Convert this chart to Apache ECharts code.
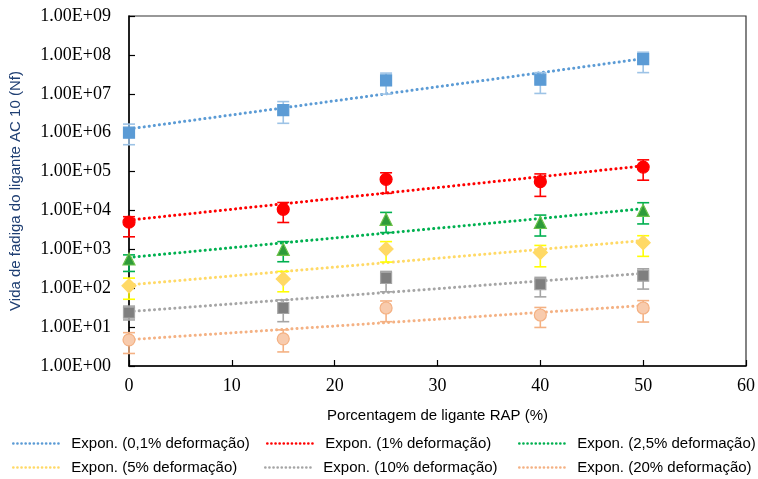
<!DOCTYPE html>
<html>
<head>
<meta charset="utf-8">
<script src="https://cdn.jsdelivr.net/npm/echarts@6/dist/echarts.min.js"></script>
<style>
  html, body { margin: 0; padding: 0; background: #fff; }
  #chart { width: 758px; height: 479px; }
</style>
</head>
<body>
<div id="chart"></div>
<script>
// RAP binder content (%) at which fatigue life was measured
const rapPercent = [0, 15, 25, 40, 50];

// Fatigue life Nf of the AC 10 binder, per strain level
const nf01  = [1.0e6, 3.8e6, 2.2e7, 2.3e7, 7.8e7];
const nf1   = [5.0e3, 1.07e4, 6.3e4, 5.5e4, 1.3e5];
const nf25  = [565, 1000, 5900, 4900, 10000];
const nf5   = [115, 173, 1020, 830, 1480];
const nf10  = [23.6, 31, 183, 127, 210];
const nf20  = [4.7, 5.0, 31, 20.5, 31];

// Error bar limits (upper / lower) for each point
const hi01 = [1.66e6, 6.3e6, 3.4e7, 3.5e7, 1.17e8];
const lo01 = [4.9e5, 1.74e6, 9.8e6, 1.02e7, 3.5e7];
const hi1  = [6.9e3, 1.6e4, 9.3e4, 8.7e4, 2.0e5];
const lo1  = [2.1e3, 4.9e3, 2.75e4, 2.3e4, 6.0e4];
const hi25 = [720, 1580, 8900, 7600, 15800];
const lo25 = [270, 480, 2700, 2200, 4500];
const hi5  = [182, 270, 1580, 1260, 2240];
const lo5  = [52, 81, 470, 355, 660];
const hi10 = [34.7, 50, 270, 190, 316];
const lo10 = [15.3, 13.8, 81, 60, 95];
const hi20 = [7.2, 8.5, 47, 32, 48];
const lo20 = [2.1, 2.3, 13.8, 9.8, 13.5];

// Legend names of the exponential trend lines
const trendNames = [
  'Expon. (0,1% deformação)',
  'Expon. (1% deformação)',
  'Expon. (2,5% deformação)',
  'Expon. (5% deformação)',
  'Expon. (10% deformação)',
  'Expon. (20% deformação)'
];

// Y axis tick labels, indexed by decade exponent
const yTickLabels = ['1.00E+00', '1.00E+01', '1.00E+02', '1.00E+03', '1.00E+04',
                     '1.00E+05', '1.00E+06', '1.00E+07', '1.00E+08', '1.00E+09'];

const groups = [
  { y: nf01, hi: hi01, lo: lo01, symbol: 'rect', size: 11, fill: '#5B9BD5', border: '#5B9BD5', bar: '#9DC3E6', line: '#5B9BD5' },
  { y: nf1,  hi: hi1,  lo: lo1,  symbol: 'circle', size: 12, fill: '#FF0000', border: '#FF0000', bar: '#FF0000', line: '#FF0000' },
  { y: nf25, hi: hi25, lo: lo25, symbol: 'triangle', size: 12, fill: '#2E9B3A', border: '#6CC24A', bar: '#00B050', line: '#00B050' },
  { y: nf5,  hi: hi5,  lo: lo5,  symbol: 'diamond', size: 14, fill: '#FFD966', border: '#FFD966', bar: '#FFFF00', line: '#FFD966' },
  { y: nf10, hi: hi10, lo: lo10, symbol: 'rect', size: 11, fill: '#7F7F7F', border: '#A5A5A5', bar: '#A5A5A5', line: '#A5A5A5' },
  { y: nf20, hi: hi20, lo: lo20, symbol: 'circle', size: 12, fill: '#F8CBAD', border: '#F4B183', bar: '#F4B183', line: '#F4B183' }
];

// Least-squares exponential fit y = a*exp(b*x), done on log10(y)
function expFit(xs, ys) {
  const n = xs.length;
  const ly = ys.map(v => Math.log10(v));
  const mx = xs.reduce((s, v) => s + v, 0) / n;
  const my = ly.reduce((s, v) => s + v, 0) / n;
  let sxy = 0, sxx = 0;
  for (let i = 0; i < n; i++) {
    sxy += (xs[i] - mx) * (ly[i] - my);
    sxx += (xs[i] - mx) * (xs[i] - mx);
  }
  const slope = sxy / sxx;
  const icpt = my - slope * mx;
  return x => Math.pow(10, icpt + slope * x);
}

const series = [];
const legends = [];
const legendPos = [
  { left: 12, top: 436 }, { left: 266, top: 436 }, { left: 518, top: 436 },
  { left: 12, top: 460 }, { left: 264, top: 460 }, { left: 518, top: 460 }
];

groups.forEach((g, k) => {
  const f = expFit(rapPercent, g.y);
  const x0 = rapPercent[0], x1 = rapPercent[rapPercent.length - 1];
  series.push({
    name: trendNames[k],
    type: 'line',
    symbol: 'none',
    z: 2,
    data: [[x0, f(x0)], [x1, f(x1)]],
    lineStyle: { color: g.line, width: 3, type: [0.1, 5], cap: 'round' },
    itemStyle: { color: g.line },
    silent: true
  });
  series.push({
    type: 'custom',
    z: 3,
    clip: false,
    data: rapPercent.map((x, i) => [x, g.lo[i], g.hi[i]]),
    renderItem: function (params, api) {
      const top = api.coord([api.value(0), api.value(2)]);
      const bot = api.coord([api.value(0), api.value(1)]);
      const w = 6;
      const style = { stroke: g.bar, lineWidth: 1.6, fill: null };
      return {
        type: 'group',
        children: [
          { type: 'line', shape: { x1: top[0], y1: top[1], x2: bot[0], y2: bot[1] }, style: style },
          { type: 'line', shape: { x1: top[0] - w, y1: top[1], x2: top[0] + w, y2: top[1] }, style: style },
          { type: 'line', shape: { x1: bot[0] - w, y1: bot[1], x2: bot[0] + w, y2: bot[1] }, style: style }
        ]
      };
    },
    silent: true
  });
  series.push({
    type: 'scatter',
    z: 4,
    clip: false,
    symbol: g.symbol,
    symbolSize: g.size,
    data: rapPercent.map((x, i) => [x, g.y[i]]),
    itemStyle: { color: g.fill, borderColor: g.border, borderWidth: 1.2, opacity: 1 },
    silent: true
  });
  legends.push({
    data: [trendNames[k]],
    left: legendPos[k].left,
    top: legendPos[k].top,
    itemWidth: 46,
    itemHeight: 14,
    padding: 0,
    selectedMode: false,
    itemStyle: { opacity: 0 },
    lineStyle: { width: 2.6, type: [0.1, 4], cap: 'round' },
    textStyle: { fontFamily: 'Liberation Sans, Arial, sans-serif', fontSize: 15, color: '#000', padding: [0, 0, 0, 7] }
  });
});

const chart = echarts.init(document.getElementById('chart'), null, { renderer: 'canvas' });
chart.setOption({
  animation: false,
  backgroundColor: '#fff',
  legend: legends,
  grid: {
    left: 127, right: 11, top: 16, bottom: 113,
    show: true, borderColor: '#333', borderWidth: 1.2, backgroundColor: 'transparent'
  },
  xAxis: {
    type: 'value',
    min: 0, max: 60, interval: 10,
    name: 'Porcentagem de ligante RAP (%)',
    nameLocation: 'middle',
    nameGap: 42,
    nameTextStyle: { fontFamily: 'Liberation Sans, Arial, sans-serif', fontSize: 15, color: '#000' },
    axisLine: { lineStyle: { color: '#000', width: 1.5 } },
    axisTick: { inside: true, length: 6, lineStyle: { color: '#000', width: 1.2 } },
    axisLabel: { fontFamily: 'Liberation Serif, Times New Roman, serif', fontSize: 18, color: '#000', margin: 11 },
    splitLine: { show: false }
  },
  yAxis: {
    type: 'log',
    logBase: 10,
    min: 1, max: 1e9,
    splitNumber: 9,
    name: 'Vida de fadiga do ligante AC 10 (Nf)',
    nameLocation: 'middle',
    nameGap: 106,
    nameTextStyle: { fontFamily: 'Liberation Sans, Arial, sans-serif', fontSize: 15, color: '#1F3F73' },
    axisLine: { lineStyle: { color: '#000', width: 1.5 } },
    axisTick: { inside: true, length: 6, lineStyle: { color: '#000', width: 1.2 } },
    minorTick: { show: false },
    axisLabel: {
      fontFamily: 'Liberation Serif, Times New Roman, serif', fontSize: 18, color: '#000', margin: 18,
      formatter: v => yTickLabels[Math.round(Math.log10(v))]
    },
    splitLine: { show: false }
  },
  series: series
});
</script>
</body>
</html>
